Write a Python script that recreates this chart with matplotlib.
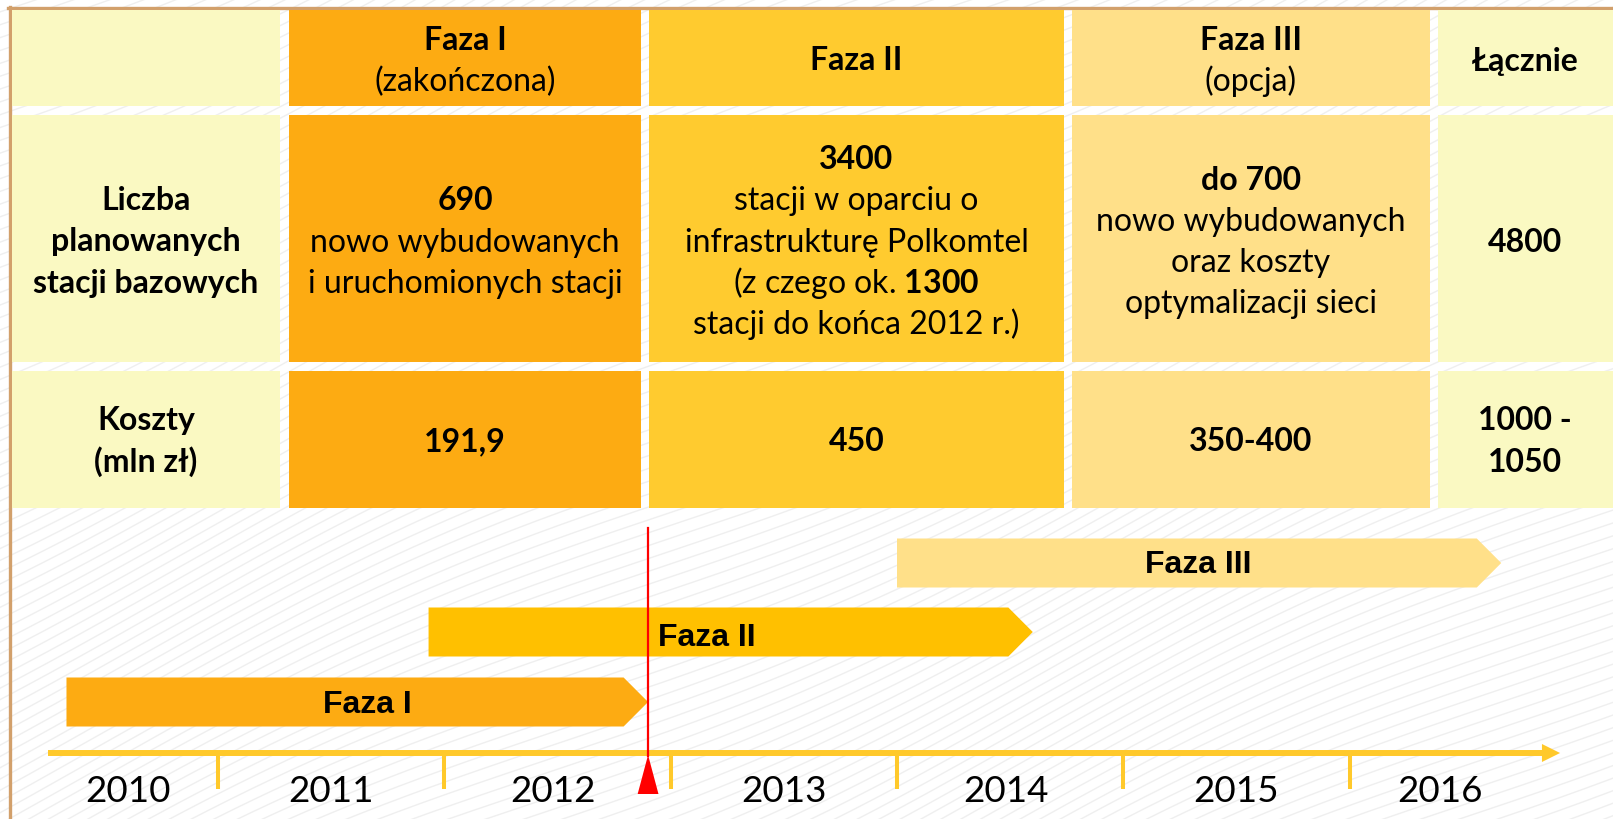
import numpy as np
import matplotlib.pyplot as plt
from matplotlib.patches import Rectangle, Polygon

plt.rcParams['font.family'] = ['Lato', 'DejaVu Sans']
plt.rcParams['mathtext.fontset'] = 'custom'
plt.rcParams['mathtext.rm'] = 'Lato'
plt.rcParams['mathtext.bf'] = 'Lato:bold'

# --- table content ---
header_bold = ['', 'Faza I', 'Faza II', 'Faza III', 'Łącznie']
header_sub = ['', '(zakończona)', '', '(opcja)', '']
row_titles = [['Liczba', 'planowanych', 'stacji bazowych'], ['Koszty', '(mln zł)']]
stations_bold = ['690', '3400', 'do 700', '4800']
stations_text = [['nowo wybudowanych', 'i uruchomionych stacji'],
                 ['stacji w oparciu o', 'infrastrukturę Polkomtel',
                  '(z czego ok. $\\mathbf{1300}$', 'stacji do końca 2012 r.)'],
                 ['nowo wybudowanych', 'oraz koszty', 'optymalizacji sieci'],
                 []]
costs = [['191,9'], ['450'], ['350-400'], ['1000 -', '1050']]

# --- timeline content ---
years = [2010, 2011, 2012, 2013, 2014, 2015, 2016]
year_label_x = [2010.6, 2011.5, 2012.48, 2013.5, 2014.48, 2015.5, 2016.4]
phase_names = ['Faza I', 'Faza II', 'Faza III']
phase_start = [2010.33, 2011.93, 2014.0]
phase_end = [2012.9, 2014.6, 2016.67]
phase_label_x = [2011.66, 2013.16, 2015.33]
today = 2012.9

cell_colors = ['#FAF9C2', '#FDAB12', '#FFCB2F', '#FFE089', '#FAF9C2']
bar_colors = ['#FDAB12', '#FFC000', '#FFE089']
axis_yellow = '#FFC92B'

# layout (figure pixels, y down)
col_edges = [(12, 280), (289, 641), (649, 1064), (1072, 1430), (1438, 1613)]
row_edges = [(11, 107), (116, 363), (372, 509)]
LINE = 41.3

fig = plt.figure(figsize=(16.13, 8.2), dpi=100)
bg = fig.add_axes([0, 0, 1, 1])
bg.set_xlim(0, 1613)
bg.set_ylim(820, 0)
bg.axis('off')

# faint wavy background texture
xx = np.linspace(0, 1613, 500)
for k in range(-10, 180):
    yy = k * 12 - 0.45 * xx + 22 * np.sin(xx / 190 + k * 0.04)
    bg.plot(xx, yy, color='#efefef', lw=1.0, zorder=0)

# frame
bg.plot([8, 1613], [8.5, 8.5], color='#D2A06B', lw=2.4, zorder=1)
bg.plot([9.5, 9.5], [8, 820], color='#D2A06B', lw=2.4, zorder=1)


def cell_lines(ax, cx, cy, lines, size=23):
    n = len(lines)
    for i, (txt, wt) in enumerate(lines):
        y = cy + (i - (n - 1) / 2) * LINE
        ax.text(cx, y + 10.5, txt, ha='center', va='baseline', fontsize=size,
                fontweight=wt, color='black', zorder=4)


for ci, (x0, x1) in enumerate(col_edges):
    for ri, (y0, y1) in enumerate(row_edges):
        bg.add_patch(Rectangle((x0, y0), x1 - x0, y1 - y0, facecolor=cell_colors[ci],
                               edgecolor='none', zorder=2))

cxs = [(a + b) / 2 for a, b in col_edges]
cxs[4] = 1525
cys = [60, 241, 440.5]

for ci in range(5):
    lines = []
    if header_bold[ci]:
        lines.append((header_bold[ci], 'bold'))
    if header_sub[ci]:
        lines.append((header_sub[ci], 'normal'))
    cell_lines(bg, cxs[ci], cys[0], lines)

cell_lines(bg, cxs[0], cys[1], [(t, 'bold') for t in row_titles[0]])
cell_lines(bg, cxs[0], cys[2], [(t, 'bold') for t in row_titles[1]])
for j in range(4):
    lines = [(stations_bold[j], 'bold')] + [(t, 'normal') for t in stations_text[j]]
    cell_lines(bg, cxs[j + 1], cys[1], lines)
    cell_lines(bg, cxs[j + 1], cys[2], [(t, 'bold') for t in costs[j]])

# --- timeline axes: x in years, y in figure pixels ---
px_per_year = 226.3
x_2011 = 218.1
xmin, xmax = 2010.2, 2017.0
left = x_2011 - (2011 - xmin) * px_per_year
width = (xmax - xmin) * px_per_year
tl = fig.add_axes([left / 1613, 0, width / 1613, (820 - 509) / 820])
tl.set_xlim(xmin, xmax)
tl.set_ylim(820, 509)
tl.axis('off')
tl.patch.set_alpha(0)

lane_y = [703, 633, 564]
label_dy = [2, 5, 1]
half_h = 24.5
tip = 0.108
for i, name in enumerate(phase_names):
    s, e, yc = phase_start[i], phase_end[i], lane_y[i]
    pts = [(s, yc - half_h), (e - tip, yc - half_h), (e, yc), (e - tip, yc + half_h), (s, yc + half_h)]
    tl.add_patch(Polygon(pts, closed=True, facecolor=bar_colors[i], edgecolor='none', zorder=3))
    tl.text(phase_label_x[i], yc + label_dy[i], name, ha='center', va='center', fontsize=23,
            fontweight='bold', family=['Liberation Sans', 'DejaVu Sans'], zorder=5)

# axis line with arrow head
axis_y = 754
tl.plot([2010.25, 2016.86], [axis_y, axis_y], color=axis_yellow, lw=4.3,
        solid_capstyle='butt', zorder=3)
tl.add_patch(Polygon([(2016.85, axis_y - 9), (2016.93, axis_y), (2016.85, axis_y + 9)],
                     closed=True, facecolor=axis_yellow, edgecolor='none', zorder=3))
for yr in years[1:]:
    tl.plot([yr, yr], [axis_y, 790], color=axis_yellow, lw=2.9, solid_capstyle='butt', zorder=3)
for yr, xl in zip(years, year_label_x):
    tl.text(xl, 802, str(yr), ha='center', va='baseline', fontsize=26.5, color='black', zorder=5)

# current date marker
tl.plot([today, today], [529, 757], color='#FF0000', lw=1.6, zorder=6)
tl.add_patch(Polygon([(today, 756), (today - 0.046, 795), (today + 0.046, 795)],
                     closed=True, facecolor='#FF0000', edgecolor='none', zorder=6))

fig.savefig('out.png', dpi=100)
